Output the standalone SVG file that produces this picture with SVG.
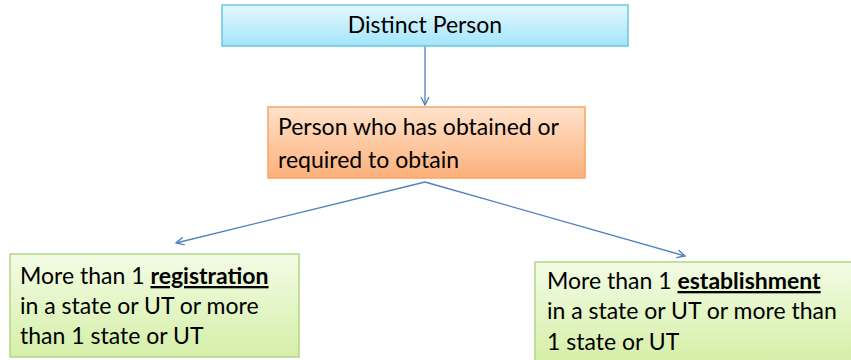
<svg xmlns="http://www.w3.org/2000/svg" width="851" height="360" viewBox="0 0 851 360">
  <defs>
    <linearGradient id="gCyan" x1="0" y1="0" x2="0" y2="1">
      <stop offset="0" stop-color="#e4f8fe"/>
      <stop offset="1" stop-color="#a3e5fa"/>
    </linearGradient>
    <linearGradient id="gOrange" x1="0" y1="0" x2="0" y2="1">
      <stop offset="0" stop-color="#ffe3cd"/>
      <stop offset="1" stop-color="#fdb07a"/>
    </linearGradient>
    <linearGradient id="gGreen" x1="0" y1="0" x2="0" y2="1">
      <stop offset="0" stop-color="#f3fce5"/>
      <stop offset="1" stop-color="#d5efa8"/>
    </linearGradient>
    <marker id="arrow" viewBox="0 0 10 10" refX="9" refY="5" markerWidth="10" markerHeight="10" markerUnits="userSpaceOnUse" orient="auto">
      <path d="M1,1 L9,5 L1,9" fill="none" stroke="#4f81bd" stroke-width="1.3"/>
    </marker>
  </defs>
  <style>
    text { font-family: Lato, "Open Sans", "Liberation Sans", sans-serif; font-size: 23px; fill: #000; }
    .box { stroke-width: 1.5; }
    .edge { fill: none; stroke: #4f81bd; stroke-width: 1.3; marker-end: url(#arrow); }
    .em { font-weight: bold; text-decoration: underline; }
  </style>

  <rect width="851" height="360" fill="#fff"/>

  <g id="connectors">
    <line class="edge" x1="425" y1="46" x2="425" y2="105"/>
    <line class="edge" x1="425" y1="182" x2="176" y2="243"/>
    <line class="edge" x1="425" y1="182" x2="685" y2="256"/>
  </g>

  <g id="distinct-person">
    <rect class="box" x="222" y="5" width="406" height="41" fill="url(#gCyan)" stroke="#6cc3e0"/>
    <text x="425" y="33" text-anchor="middle">Distinct Person</text>
  </g>

  <g id="person-obtained">
    <rect class="box" x="268" y="107" width="317" height="71" fill="url(#gOrange)" stroke="#f9a564"/>
    <text x="278" y="135">Person who has obtained or</text>
    <text x="278" y="168">required to obtain</text>
  </g>

  <g id="multiple-registrations">
    <rect class="box" x="10" y="254" width="289" height="103" fill="url(#gGreen)" stroke="#b5d487"/>
    <text x="20" y="284">More than 1 <tspan class="em">registration</tspan></text>
    <text x="20" y="314">in a state or UT or more</text>
    <text x="20" y="344">than 1 state or UT</text>
  </g>

  <g id="multiple-establishments">
    <rect class="box" x="535" y="262" width="320" height="100" fill="url(#gGreen)" stroke="#b5d487"/>
    <text x="547" y="289">More than 1 <tspan class="em">establishment</tspan></text>
    <text x="547" y="319">in a state or UT or more than</text>
    <text x="547" y="350">1 state or UT</text>
  </g>
</svg>
